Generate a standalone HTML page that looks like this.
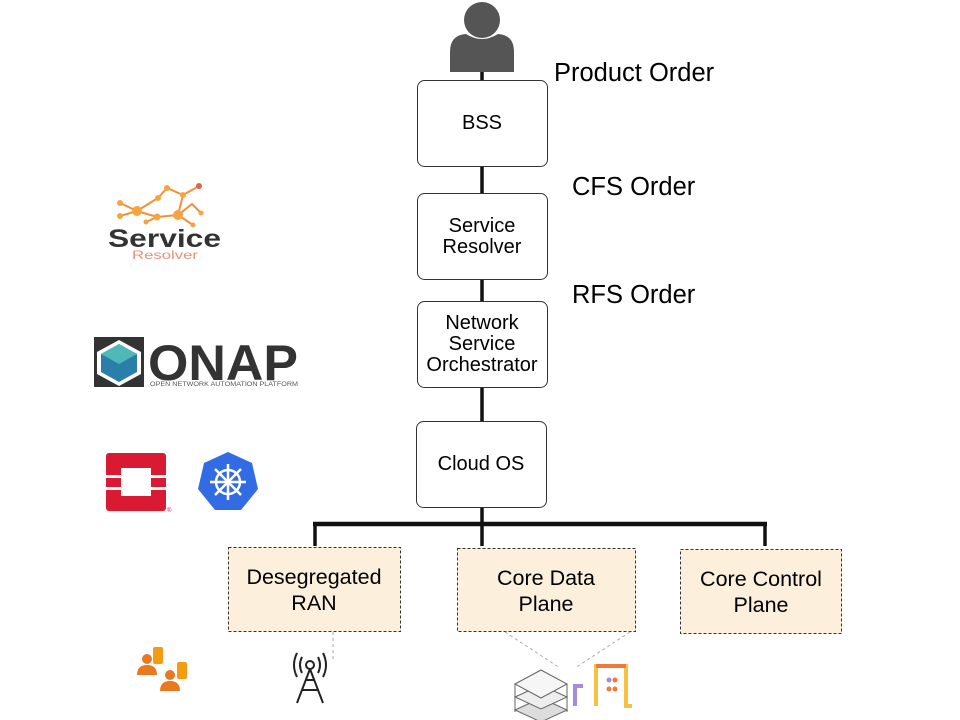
<!DOCTYPE html>
<html><head><meta charset="utf-8"><style>
html,body{margin:0;padding:0;background:#fff;}
svg{display:block;font-family:"Liberation Sans",Arial,sans-serif;}
</style></head><body>
<svg width="960" height="720" viewBox="0 0 960 720" xmlns="http://www.w3.org/2000/svg">
<g stroke="#111" stroke-width="3.5" fill="none">
<line x1="482" y1="70" x2="482" y2="81"/>
<line x1="482" y1="166" x2="482" y2="194"/>
<line x1="482" y1="280" x2="482" y2="302"/>
<line x1="482" y1="388" x2="482" y2="422"/>
<line x1="482" y1="507" x2="482" y2="524"/>
<line x1="313" y1="524" x2="767" y2="524" stroke-width="4.5"/>
<line x1="315" y1="524" x2="315" y2="546"/>
<line x1="482" y1="524" x2="482" y2="546"/>
<line x1="765" y1="524" x2="765" y2="546"/>
</g>
<g fill="#555">
<circle cx="482" cy="20" r="18"/>
<path d="M450 72 L450 52 Q450 35 466 34 Q482 44 498 34 Q514 35 514 52 L514 72 Z"/>
</g>
<g fill="#fff" stroke="#333" stroke-width="1">
<rect x="417.5" y="80.5" width="130" height="86" rx="7"/>
<rect x="417.5" y="193.5" width="130" height="86" rx="7"/>
<rect x="417.5" y="301.5" width="130" height="86" rx="7"/>
<rect x="416.5" y="421.5" width="130" height="86" rx="7"/>
</g>
<g font-size="20" fill="#000" text-anchor="middle">
<text x="482" y="129">BSS</text>
<text x="482" y="232">Service</text>
<text x="482" y="253">Resolver</text>
<text x="482" y="329">Network</text>
<text x="482" y="350">Service</text>
<text x="482" y="371">Orchestrator</text>
<text x="481" y="470">Cloud OS</text>
</g>
<g font-size="25.5" fill="#000">
<text x="554" y="81">Product Order</text>
<text x="572" y="195">CFS Order</text>
<text x="572" y="303">RFS Order</text>
</g>
<g fill="#fcefdc" stroke="#333" stroke-width="1" stroke-dasharray="3,2">
<rect x="228.5" y="547.5" width="172" height="84"/>
<rect x="457.5" y="548.5" width="178" height="83"/>
<rect x="680.5" y="549.5" width="161" height="84"/>
</g>
<g font-size="21.5" fill="#000" text-anchor="middle">
<text x="314" y="584">Desegregated</text>
<text x="314" y="610">RAN</text>
<text x="546" y="585">Core Data</text>
<text x="546" y="611">Plane</text>
<text x="761" y="586">Core Control</text>
<text x="761" y="612">Plane</text>
</g>
<g stroke="#aaa" stroke-width="1" stroke-dasharray="3,3" fill="none">
<line x1="333" y1="632" x2="333" y2="662"/>
<line x1="505" y1="632" x2="560" y2="668"/>
<line x1="630" y1="632" x2="575" y2="668"/>
</g>
<g stroke="#222" stroke-width="2" fill="none">
<circle cx="310" cy="665" r="4"/>
<path d="M302 657 Q298 665 302 673 M318 657 Q322 665 318 673 M297 653 Q291 665 297 677 M323 653 Q329 665 323 677"/>
<path d="M310 669 L297 703 M310 669 L323 703 M302 690 L318 690 M305 680 L315 680"/>
</g>
<g fill="#f39c12"><rect x="153" y="647" width="10" height="17" rx="2"/><rect x="177" y="662" width="10" height="17" rx="2"/></g>
<g fill="#e8791e">
<circle cx="147" cy="659" r="5"/><path d="M137 675 Q137 665 147 665 Q157 665 157 675 Z"/>
<circle cx="170" cy="675" r="5"/><path d="M160 691 Q160 681 170 681 Q180 681 180 691 Z"/>
</g>
<g stroke="#666" stroke-width="1" fill="#eee">
<path d="M515 710 L541 698 L567 710 L541 722 Z" fill="#ddd"/>
<path d="M515 697 L541 685 L567 697 L541 709 Z"/>
<path d="M515 684 L541 670 L567 684 L541 698 Z" fill="#f6f6f6"/>
<path d="M515 684 L515 712 M567 684 L567 712" fill="none"/>
</g>
<g fill="none" stroke-width="4">
<path d="M596 706 L596 666 L626 666 L626 706 L632 706" stroke="#f5c342"/>
<path d="M596 666 L626 666" stroke="#f07a3a"/>
<path d="M575 706 L575 686 L583 686" stroke="#a58be0"/>
</g>
<g fill="#a58be0"><circle cx="609" cy="680" r="2.5"/></g>
<g fill="#f07a3a"><circle cx="615" cy="680" r="2.5"/><circle cx="609" cy="689" r="2.5"/><circle cx="615" cy="689" r="2.5"/></g>
<g stroke="#f0913a" stroke-width="2" fill="none">
<path d="M120 203 L137 211 L158 198 L167 188 L183 195 L199 186 M137 211 L157 217 L178 215 L192 204 L201 213 M178 215 L183 195 M120 216 L137 211 M157 217 L146 222 M178 215 L193 225"/>
</g>
<g fill="#f5a442">
<circle cx="120" cy="203" r="3"/><circle cx="120" cy="216" r="3"/><circle cx="137" cy="211" r="5"/><circle cx="158" cy="198" r="3"/>
<circle cx="167" cy="188" r="3"/><circle cx="183" cy="195" r="3"/><circle cx="157" cy="217" r="3.5"/><circle cx="178" cy="215" r="5"/>
<circle cx="146" cy="222" r="2.5"/><circle cx="193" cy="225" r="2.5"/><circle cx="199" cy="186" r="3" fill="#e8604a"/><circle cx="201" cy="213" r="2.5"/>
</g>
<text x="108" y="247" font-size="25" font-weight="bold" fill="#333" textLength="113" lengthAdjust="spacingAndGlyphs">Service</text>
<text x="132" y="259" font-size="12" fill="#e8907a" textLength="66" lengthAdjust="spacingAndGlyphs">Resolver</text>
<rect x="94" y="337" width="50" height="50" fill="#333"/>
<path d="M119 340 L141 352 L141 374 L119 386 L97 374 L97 352 Z" fill="#fff"/>
<path d="M119 344 L137 354 L137 372 L119 382 L101 372 L101 354 Z" fill="#2a7fa8"/>
<path d="M119 344 L137 354 L119 364 L101 354 Z" fill="#4fb8b8"/>
<text x="148" y="380" font-size="50" font-weight="bold" fill="#333" textLength="150" lengthAdjust="spacingAndGlyphs">ONAP</text>
<text x="150" y="386" font-size="6" fill="#555" textLength="148" lengthAdjust="spacingAndGlyphs">OPEN NETWORK AUTOMATION PLATFORM</text>
<rect x="106" y="453" width="60" height="58" rx="3" fill="#da1a32"/>
<rect x="106" y="475" width="60" height="3" fill="#fff"/>
<rect x="106" y="487" width="60" height="3" fill="#fff"/>
<rect x="121" y="468" width="30" height="28" fill="#fff"/>
<text x="167" y="512" font-size="6" fill="#da1a32">®</text>
<path d="M228 452 L252 463 L258 489 L241 510 L215 510 L198 489 L204 463 Z" fill="#326ce5"/>
<g stroke="#fff" stroke-width="2.5" fill="none">
<circle cx="228" cy="482" r="12"/>
<path d="M228 464 L228 500 M210 482 L246 482 M215 469 L241 495 M241 469 L215 495"/>
</g>
</svg>
</body></html>
